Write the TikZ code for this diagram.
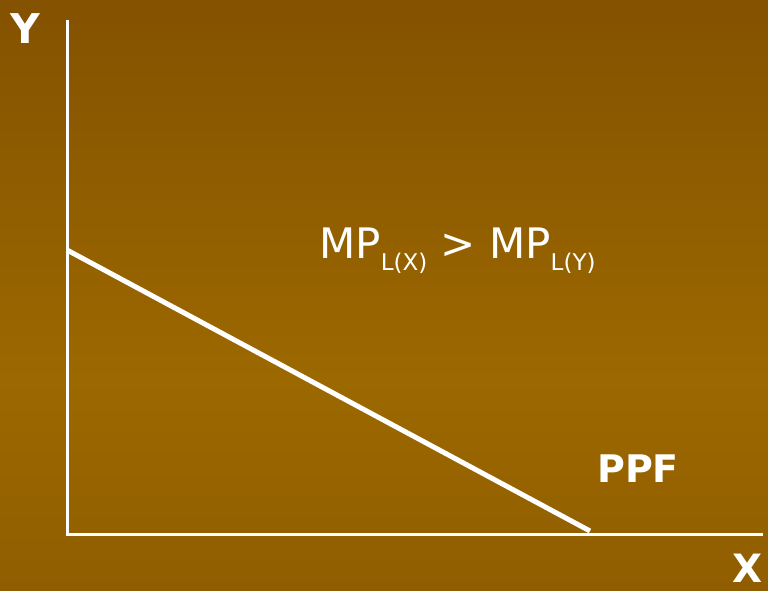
\documentclass[tikz,border=0pt]{standalone}
\usepackage{fontspec}
\setmainfont{DejaVu Sans}
\begin{document}
\begin{tikzpicture}[x=1pt,y=-1pt,
  axis/.style={draw=white,line width=3pt},
  curve/.style={draw=white,line width=5pt},
  biglab/.style={text=white,font=\fontsize{41}{41}\selectfont\bfseries,inner sep=0pt},
  eqlab/.style={text=white,font=\fontsize{42}{42}\selectfont,inner sep=0pt}]
\definecolor{bgtop}{HTML}{845200}
\definecolor{bgmid}{HTML}{9C6800}
\definecolor{bgbot}{HTML}{905E00}
\useasboundingbox (0,0) rectangle (768,590);
\shade[top color=bgtop,bottom color=bgmid] (0,0) rectangle (768,380);
\shade[top color=bgmid,bottom color=bgbot] (0,380) rectangle (768,590);
\coordinate (o) at (67,534);
\coordinate (ytop) at (67,20);
\coordinate (xend) at (763,534);
\coordinate (pa) at (67,250);
\coordinate (pb) at (590,531);
\draw[axis] (ytop) -- (67,535.5);
\draw[axis] (65.5,534) -- (xend);
\draw[curve] (pa) -- (pb);
\node[biglab,anchor=base] (ylab) at (25,43) {Y};
\node[biglab,font=\fontsize{39}{39}\selectfont\bfseries,anchor=base] (xlab) at (748,582) {X};
\node[biglab,font=\fontsize{38}{38}\selectfont\bfseries,anchor=base west] (ppf) at (597,482) {PPF};
\node[eqlab,anchor=base west] (eq) at (319,258) {MP\raisebox{-12pt}{\fontsize{23}{23}\selectfont L(X)} \textgreater{} MP\raisebox{-12pt}{\fontsize{23}{23}\selectfont L(Y)}};
\end{tikzpicture}
\end{document}
